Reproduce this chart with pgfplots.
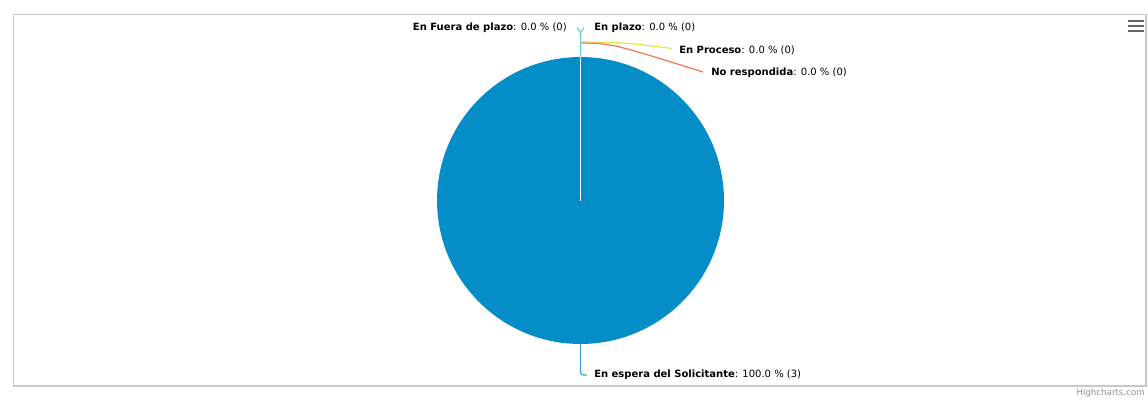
\documentclass[border=0pt]{standalone}
\usepackage{pgfplots}
\pgfplotsset{compat=1.18}
\usepackage{pgfplotstable}
\usepackage{fontspec}
\setmainfont{DejaVu Sans}

\definecolor{slice}{HTML}{058DC7}
\definecolor{cyanline}{HTML}{62D4DC}
\definecolor{yelline}{HTML}{E6E64A}
\definecolor{oraline}{HTML}{F0784C}
\definecolor{bottomline}{HTML}{3BA6D9}
\definecolor{frame}{HTML}{C8C8C8}
\definecolor{credit}{HTML}{909090}
\definecolor{menu}{HTML}{666666}

% estado, valor
\pgfplotstableread[col sep=comma]{
estado,valor
En plazo,0
En Fuera de plazo,0
En Proceso,0
No respondida,0
En espera del Solicitante,3
}\estados

\pgfplotstablegetelem{4}{valor}\of\estados
\pgfmathsetmacro{\vespera}{\pgfplotsretval}
\pgfmathsetmacro{\total}{\vespera+0+0+0+0}
\pgfmathsetmacro{\sweep}{360*\vespera/\total}

\begin{document}
\begin{tikzpicture}
\begin{axis}[
    x=0.75pt, y=0.75pt,
    xmin=0, xmax=1148, ymin=0, ymax=404,
    y dir=reverse,
    axis lines=none,
    ticks=none,
    clip=false,
    font=\fontsize{7.5}{10}\selectfont,
]
% page extent
\path (axis cs:0,0) rectangle (axis cs:1148,404);
% chart frame
\draw[frame, line width=0.8pt] (axis cs:13.5,14.5) rectangle (axis cs:1146,386);

% pie slice (100 %)
\fill[slice] (axis cs:580.5,200.5) -- ++(90:107.6pt)
    arc[start angle=90, delta angle=-\sweep, radius=107.6pt] -- cycle;
\draw[white, line width=0.8pt] (axis cs:580.5,200.5) -- (axis cs:580.5,57);

% connectors
\draw[cyanline, line width=0.9pt] (axis cs:580.5,57) -- (axis cs:580.5,36)
    .. controls (axis cs:580.5,32) .. (axis cs:577,27.5);
\draw[cyanline, line width=0.9pt] (axis cs:580.5,36)
    .. controls (axis cs:580.5,32) .. (axis cs:584,27.5);
\draw[yelline, line width=0.9pt] (axis cs:581,42) .. controls (axis cs:625,42.5) .. (axis cs:672,48.5);
\draw[oraline, line width=0.9pt] (axis cs:581,43) .. controls (axis cs:612,43.5) .. (axis cs:703,72);
\draw[bottomline, line width=0.9pt] (axis cs:580.5,344) -- (axis cs:580.5,369)
    .. controls (axis cs:580.5,375) .. (axis cs:587,375);

% labels
\node[anchor=east, inner sep=0pt] at (axis cs:567,28) {\textbf{En Fuera de plazo}: 0.0 \% (0)};
\node[anchor=west, inner sep=0pt] at (axis cs:594,28) {\textbf{En plazo}: 0.0 \% (0)};
\node[anchor=west, inner sep=0pt] at (axis cs:679,50) {\textbf{En Proceso}: 0.0 \% (0)};
\node[anchor=west, inner sep=0pt] at (axis cs:711,73) {\textbf{No respondida}: 0.0 \% (0)};
\node[anchor=west, inner sep=0pt] at (axis cs:594,375) {\textbf{En espera del Solicitante}: 100.0 \% (3)};

% credits
\node[anchor=east, inner sep=0pt, text=credit, font=\fontsize{6.5}{8}\selectfont] at (axis cs:1145,393) {Highcharts.com};

% menu icon
\draw[menu, line width=1.6pt] (axis cs:1128,21) -- (axis cs:1144,21);
\draw[menu, line width=1.6pt] (axis cs:1128,26) -- (axis cs:1144,26);
\draw[menu, line width=1.6pt] (axis cs:1128,31) -- (axis cs:1144,31);
\end{axis}
\end{tikzpicture}
\end{document}
